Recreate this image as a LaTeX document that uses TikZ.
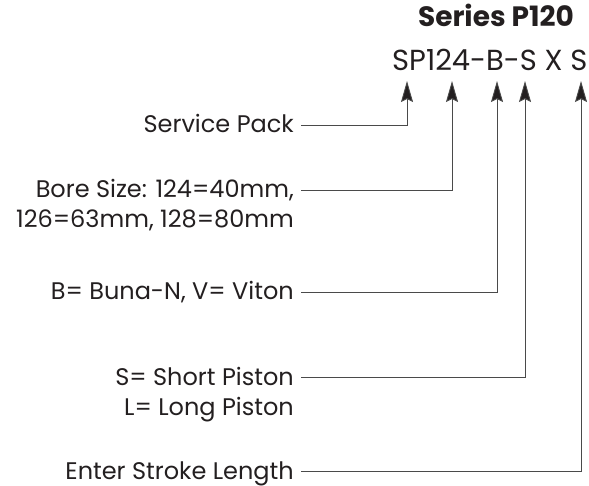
\documentclass[tikz,border=0pt]{standalone}
\usepackage{fontspec}
\setmainfont{Poppins}
\usetikzlibrary{arrows.meta,calc}
\definecolor{ink}{HTML}{231F20}
\definecolor{wire}{HTML}{4A4A4A}
\begin{document}
\begin{tikzpicture}[x=1pt,y=-1pt,
  lbl/.style={anchor=base east,inner sep=0pt,font=\fontsize{24}{28}\selectfont,text=ink},
  conn/.style={draw=wire,line width=0.9pt,-{Stealth[length=21pt,width=12pt,inset=3pt,fill=ink]}}]
\useasboundingbox (0,0) rectangle (589,486);
\node[anchor=base east,inner sep=0pt,text=ink,font=\bfseries\fontsize{28}{31}\selectfont] (title) at (574,27) {Series P120};
\node[anchor=base west,inner sep=0pt,text=ink,font=\fontsize{29}{33}\selectfont] (code) at (392,71) {SP124-B-S X S};
\coordinate (t1) at (407,81);
\coordinate (t2) at (452,81);
\coordinate (t3) at (497,81);
\coordinate (t4) at (525,81);
\coordinate (t5) at (581,81);
\node[lbl] (sp) at (294,133) {Service Pack};
\node[lbl] (bore) at (294,198) {Bore Size: 124=40mm,};
\node[lbl] (bore2) at (294,228) {126=63mm, 128=80mm};
\node[lbl] (buna) at (294,300) {B= Buna-N, V= Viton};
\node[lbl] (short) at (294,385) {S= Short Piston};
\node[lbl] (long) at (294,415) {L= Long Piston};
\node[lbl] (stroke) at (294,479) {Enter Stroke Length};
\draw[conn] ($(sp.base east)+(7,-8)$) -| (t1);
\draw[conn] ($(bore.base east)+(7,-8)$) -| (t2);
\draw[conn] ($(buna.base east)+(7,-8)$) -| (t3);
\draw[conn] ($(short.base east)+(7,-8)$) -| (t4);
\draw[conn] ($(stroke.base east)+(7,-8)$) -| (t5);
\end{tikzpicture}
\end{document}
